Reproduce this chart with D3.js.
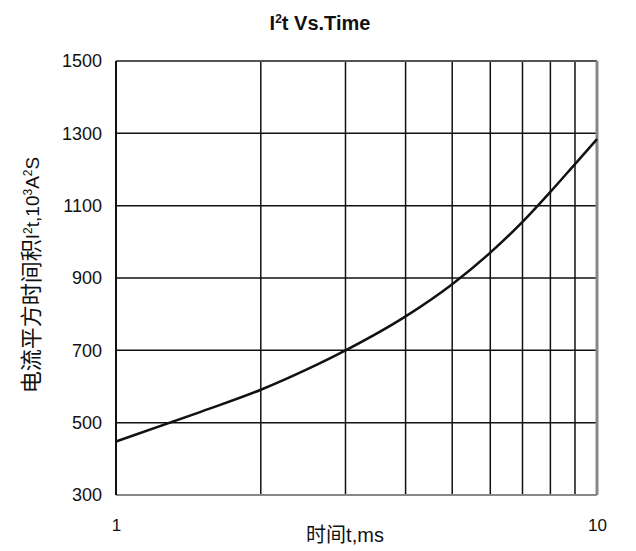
<!DOCTYPE html>
<html>
<head>
<meta charset="utf-8">
<script src="https://cdn.jsdelivr.net/npm/d3@7"></script>
<style>
  body { margin: 0; background: #fff; }
  svg text { font-family: "Liberation Sans", Arial, sans-serif; fill: #111; }
</style>
</head>
<body>
<svg id="chart" width="636" height="551"></svg>
<script>
// time in ms and I²t in 10³A²S
const times = [1, 1.5, 2, 2.5, 3, 4, 5, 6, 7, 8, 9, 10];
const i2t = [448, 530, 591, 648, 700, 794, 883, 970, 1055, 1138, 1215, 1284];
const yTicks = [300, 500, 700, 900, 1100, 1300, 1500];
const xGrid = [2, 3, 4, 5, 6, 7, 8, 9];
const xTickLabels = [1, 10];

const svg = d3.select('#chart');
const margin = { top: 61, right: 39, bottom: 56, left: 116 };
const W = 636, H = 551;

const x = d3.scaleLog().domain([1, 10]).range([margin.left, W - margin.right]);
const y = d3.scaleLinear().domain([300, 1500]).range([H - margin.bottom, margin.top]);

// Title
const title = svg.append('text')
  .attr('x', 320).attr('y', 30)
  .attr('text-anchor', 'middle')
  .attr('font-size', 20)
  .attr('font-weight', 'bold');
title.append('tspan').text('I');
title.append('tspan').attr('dy', -7).attr('font-size', 12).text('2');
title.append('tspan').attr('dy', 7).text('t  Vs.Time');

// Grid
const grid = svg.append('g');
grid.selectAll('line.h')
  .data(yTicks.slice(1, -1))
  .join('line')
  .attr('x1', x(1)).attr('x2', x(10))
  .attr('y1', d => y(d)).attr('y2', d => y(d))
  .attr('stroke', '#111').attr('stroke-width', 1.5);

grid.selectAll('line.v')
  .data(xGrid)
  .join('line')
  .attr('x1', d => x(d)).attr('x2', d => x(d))
  .attr('y1', y(1500)).attr('y2', y(300))
  .attr('stroke', '#111').attr('stroke-width', 1.5);

// Frame
svg.append('line')
  .attr('x1', x(1)).attr('x2', x(10)).attr('y1', y(1500)).attr('y2', y(1500))
  .attr('stroke', '#555').attr('stroke-width', 2);
svg.append('line')
  .attr('x1', x(10)).attr('x2', x(10)).attr('y1', y(1500)).attr('y2', y(300))
  .attr('stroke', '#888').attr('stroke-width', 3);
svg.append('line')
  .attr('x1', x(1)).attr('x2', x(10)).attr('y1', y(300)).attr('y2', y(300))
  .attr('stroke', '#888').attr('stroke-width', 2);
svg.append('line')
  .attr('x1', x(1)).attr('x2', x(1)).attr('y1', y(1500)).attr('y2', y(300))
  .attr('stroke', '#111').attr('stroke-width', 2);

// Y axis labels
const yAxis = d3.axisLeft(y).tickValues(yTicks).tickFormat(d3.format('d')).tickSize(0).tickPadding(14);
svg.append('g')
  .attr('transform', `translate(${x(1)},0)`)
  .call(yAxis)
  .call(g => g.select('.domain').remove())
  .call(g => g.selectAll('text')
    .attr('font-size', 18)
    .attr('font-family', '"Liberation Sans", Arial, sans-serif')
    .attr('fill', '#111'));

// X axis labels
const xAxis = d3.axisBottom(x).tickValues(xTickLabels).tickFormat(d3.format('d')).tickSize(0).tickPadding(24);
svg.append('g')
  .attr('transform', `translate(0,${y(300)})`)
  .call(xAxis)
  .call(g => g.select('.domain').remove())
  .call(g => g.selectAll('text')
    .attr('font-size', 17)
    .attr('font-family', '"Liberation Sans", Arial, sans-serif')
    .attr('fill', '#111'));

// Curve
const line = d3.line()
  .x((d, i) => x(times[i]))
  .y(d => y(d))
  .curve(d3.curveMonotoneX);
svg.append('path')
  .datum(i2t)
  .attr('d', line)
  .attr('fill', 'none')
  .attr('stroke', '#111')
  .attr('stroke-width', 2.5);

// Axis titles
const xt = svg.append('text')
  .attr('x', 345).attr('y', 542)
  .attr('text-anchor', 'middle')
  .attr('font-size', 20);
xt.append('tspan').attr('font-family', '"Noto Sans CJK SC", sans-serif').text('时间');
xt.append('tspan').text('t,ms');

const yt = svg.append('text')
  .attr('transform', 'translate(39,275) rotate(-90)')
  .attr('text-anchor', 'middle')
  .attr('font-size', 19);
yt.append('tspan').attr('font-family', '"Noto Sans CJK SC", sans-serif').attr('font-size', 22).text('电流平方时间积');
yt.append('tspan').text('I');
yt.append('tspan').attr('dy', -7).attr('font-size', 12).text('2');
yt.append('tspan').attr('dy', 7).text('t,10');
yt.append('tspan').attr('dy', -7).attr('font-size', 12).text('3');
yt.append('tspan').attr('dy', 7).text('A');
yt.append('tspan').attr('dy', -7).attr('font-size', 12).text('2');
yt.append('tspan').attr('dy', 7).text('S');
</script>
</body>
</html>
